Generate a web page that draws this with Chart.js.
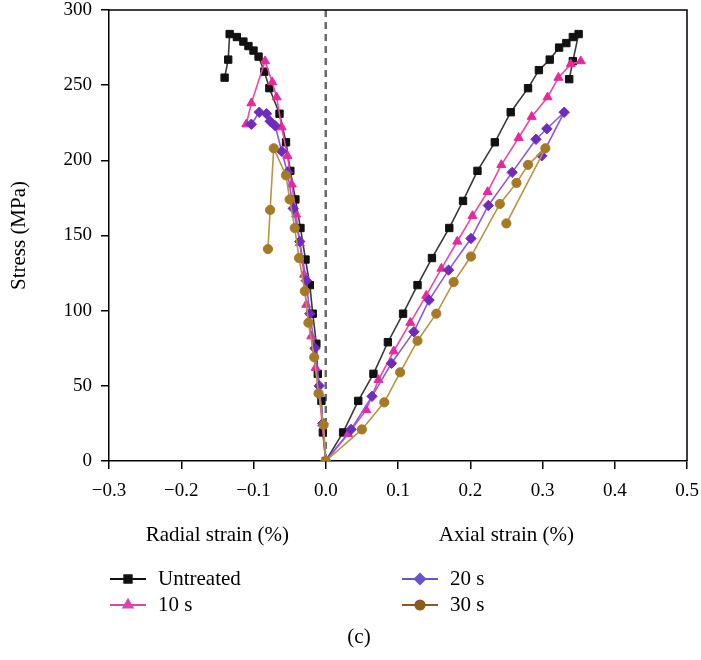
<!DOCTYPE html>
<html>
<head>
<meta charset="utf-8">
<script src="https://cdn.jsdelivr.net/npm/chart.js@4/dist/chart.umd.min.js"></script>
<style>
  body { margin: 0; background: #fff; }
  canvas { display: block; }
</style>
</head>
<body>
<canvas id="grafico" width="701" height="660"></canvas>
<script>
// series names (legend order)
const seriesNames = ['Untreated', '10 s', '20 s', '30 s'];

// radial strain side, read from the origin outwards
const untreatedRadialX = [0, -0.004, -0.006, -0.011, -0.013, -0.018, -0.022, -0.028, -0.035, -0.042, -0.049, -0.055, -0.064, -0.078, -0.085, -0.093, -0.100, -0.107, -0.114, -0.123, -0.133, -0.135, -0.140];
const untreatedRadialY = [0, 19, 40, 58, 78, 98, 117, 134, 155, 174, 193, 212, 231, 248, 259, 269, 273, 276, 279, 282, 284, 267, 255];
const s10RadialX = [0, -0.005, -0.009, -0.014, -0.020, -0.027, -0.030, -0.036, -0.041, -0.047, -0.053, -0.061, -0.068, -0.074, -0.084, -0.103, -0.110];
const s10RadialY = [0, 25, 45, 62, 83, 104, 124, 145, 164, 184, 203, 222, 242, 252, 266, 238, 224];
const s20RadialX = [0, -0.004, -0.009, -0.015, -0.022, -0.027, -0.036, -0.045, -0.053, -0.061, -0.070, -0.077, -0.082, -0.092, -0.103];
const s20RadialY = [0, 25, 50, 75, 98, 120, 146, 168, 192, 206, 223, 226, 231, 232, 224];
const s30RadialX = [0, -0.003, -0.010, -0.016, -0.024, -0.029, -0.037, -0.043, -0.050, -0.055, -0.072, -0.077, -0.080];
const s30RadialY = [0, 24, 45, 69, 92, 113, 135, 155, 174, 190, 208, 167, 141];

// axial strain side
const untreatedAxialX = [0, 0.024, 0.045, 0.066, 0.086, 0.107, 0.127, 0.147, 0.171, 0.190, 0.210, 0.234, 0.256, 0.280, 0.295, 0.310, 0.323, 0.333, 0.342, 0.350, 0.342, 0.337];
const untreatedAxialY = [0, 19, 40, 58, 79, 98, 117, 135, 155, 173, 193, 212, 232, 248, 260, 267, 275, 278, 282, 284, 266, 254];
const s10AxialX = [0, 0.031, 0.056, 0.073, 0.094, 0.117, 0.139, 0.160, 0.182, 0.203, 0.224, 0.243, 0.267, 0.285, 0.307, 0.322, 0.339, 0.353];
const s10AxialY = [0, 18, 34, 54, 73, 92, 110, 128, 146, 163, 179, 197, 215, 229, 242, 255, 264, 266];
const s20AxialX = [0, 0.035, 0.064, 0.091, 0.122, 0.143, 0.170, 0.201, 0.225, 0.258, 0.291, 0.306, 0.330, 0.299];
const s20AxialY = [0, 21, 43, 65, 86, 107, 127, 148, 170, 192, 214, 221, 232, 203];
const s30AxialX = [0, 0.050, 0.081, 0.103, 0.127, 0.153, 0.177, 0.201, 0.241, 0.264, 0.280, 0.304, 0.250];
const s30AxialY = [0, 21, 39, 59, 80, 98, 119, 136, 171, 185, 197, 208, 158];

// tick labels
const xTicks = [-0.3, -0.2, -0.1, 0.0, 0.1, 0.2, 0.3, 0.4, 0.5];
const yTicks = [0, 50, 100, 150, 200, 250, 300];

const FONT = '"Liberation Serif", "Times New Roman", serif';

// radial part is walked back to the origin, then the axial part out again
function montarPontos(rx, ry, ax, ay) {
    const pts = [];
    for (let i = rx.length - 1; i >= 0; i--) pts.push({ x: rx[i], y: ry[i] });
    for (let i = 1; i < ax.length; i++) pts.push({ x: ax[i], y: ay[i] });
    return pts;
}

const estilos = [
    { line: '#3a3a3a', point: '#111111', legend: '#111111', shape: 'rect', r: 5.2 },
    { line: '#ea4aa3', point: '#e8289a', legend: '#d44aa8', shape: 'triangle', r: 5.2 },
    { line: '#8a5ae2', point: '#6f2cbc', legend: '#6a55c8', shape: 'rectRot', r: 5.2 },
    { line: '#b89444', point: '#a57a26', legend: '#8b5a1e', shape: 'circle', r: 4.6 }
];

const pontos = [
    montarPontos(untreatedRadialX, untreatedRadialY, untreatedAxialX, untreatedAxialY),
    montarPontos(s10RadialX, s10RadialY, s10AxialX, s10AxialY),
    montarPontos(s20RadialX, s20RadialY, s20AxialX, s20AxialY),
    montarPontos(s30RadialX, s30RadialY, s30AxialX, s30AxialY)
];

const datasets = seriesNames.map((nome, i) => ({
    label: nome,
    data: pontos[i],
    showLine: true,
    borderColor: estilos[i].line,
    borderWidth: 1.6,
    backgroundColor: estilos[i].point,
    pointBackgroundColor: estilos[i].point,
    pointBorderColor: estilos[i].point,
    pointBorderWidth: 1,
    pointStyle: estilos[i].shape,
    pointRadius: estilos[i].r,
    order: 4 - i
}));

function fmtX(v) {
    const s = Math.abs(v).toFixed(1);
    return v < -1e-9 ? '\u2212' + s : s;
}

// dashed line at zero strain, frame, titles and legend
const extras = {
    id: 'extras',
    beforeDatasetsDraw(chart) {
        const { ctx, chartArea, scales } = chart;
        const x0 = scales.x.getPixelForValue(0);
        ctx.save();
        ctx.strokeStyle = '#6b6b6b';
        ctx.lineWidth = 2.5;
        ctx.setLineDash([7, 5]);
        ctx.beginPath();
        ctx.moveTo(x0, chartArea.top);
        ctx.lineTo(x0, chartArea.bottom);
        ctx.stroke();
        ctx.restore();
    },
    afterDraw(chart) {
        const { ctx, chartArea, scales } = chart;
        ctx.save();
        ctx.strokeStyle = '#000';
        ctx.lineWidth = 1.5;
        ctx.beginPath();
        ctx.moveTo(chartArea.left, chartArea.top);
        ctx.lineTo(chartArea.right, chartArea.top);
        ctx.lineTo(chartArea.right, chartArea.bottom);
        ctx.stroke();

        ctx.fillStyle = '#000';
        ctx.font = '21px ' + FONT;
        ctx.textAlign = 'center';
        ctx.textBaseline = 'middle';
        ctx.fillText('Radial strain (%)', scales.x.getPixelForValue(-0.15), 535);
        ctx.fillText('Axial strain (%)', scales.x.getPixelForValue(0.25), 535);

        ctx.save();
        ctx.translate(19, (chartArea.top + chartArea.bottom) / 2);
        ctx.rotate(-Math.PI / 2);
        ctx.fillText('Stress (MPa)', 0, 0);
        ctx.restore();

        ctx.fillText('(c)', 359, 637);

        // legend in two columns
        const pos = [[110, 579], [110, 605], [402, 579], [402, 605]];
        seriesNames.forEach((nome, i) => {
            const [lx, ly] = pos[i];
            const e = estilos[i];
            ctx.strokeStyle = e.legend;
            ctx.fillStyle = e.legend;
            ctx.lineWidth = 2;
            ctx.beginPath();
            ctx.moveTo(lx, ly);
            ctx.lineTo(lx + 36, ly);
            ctx.stroke();
            Chart.helpers.drawPoint(ctx, { pointStyle: e.shape, radius: e.r, rotation: 0, borderWidth: 1 }, lx + 18, ly);
            ctx.fillStyle = '#000';
            ctx.textAlign = 'left';
            ctx.fillText(nome, lx + 48, ly);
        });
        ctx.restore();
    }
};

const ctx = document.getElementById('grafico').getContext('2d');
const grafico = new Chart(ctx, {
    type: 'scatter',
    data: { datasets: datasets },
    options: {
        responsive: false,
        animation: false,
        layout: { autoPadding: false, padding: { left: 0, top: 10, right: 14, bottom: 0 } },
        plugins: {
            legend: { display: false },
            tooltip: { enabled: false }
        },
        scales: {
            x: {
                type: 'linear',
                min: xTicks[0],
                max: xTicks[xTicks.length - 1],
                afterBuildTicks: s => { s.ticks = xTicks.map(v => ({ value: v })); },
                afterFit: s => { s.height = 199; s.paddingLeft = 0; s.paddingRight = 0; },
                ticks: {
                    callback: v => fmtX(v),
                    color: '#000',
                    font: { family: FONT, size: 19 },
                    padding: 11,
                    maxRotation: 0
                },
                grid: { drawOnChartArea: false, tickLength: 8, color: '#000', lineWidth: 1.5 },
                border: { color: '#000', width: 1.5 }
            },
            y: {
                type: 'linear',
                min: yTicks[0],
                max: yTicks[yTicks.length - 1],
                afterBuildTicks: s => { s.ticks = yTicks.map(v => ({ value: v })); },
                afterFit: s => { s.width = 109; s.paddingTop = 0; s.paddingBottom = 0; },
                ticks: {
                    color: '#000',
                    font: { family: FONT, size: 19 },
                    padding: 9
                },
                grid: { drawOnChartArea: false, tickLength: 8, color: '#000', lineWidth: 1.5 },
                border: { color: '#000', width: 1.5 }
            }
        }
    },
    plugins: [extras]
});
</script>
</body>
</html>
